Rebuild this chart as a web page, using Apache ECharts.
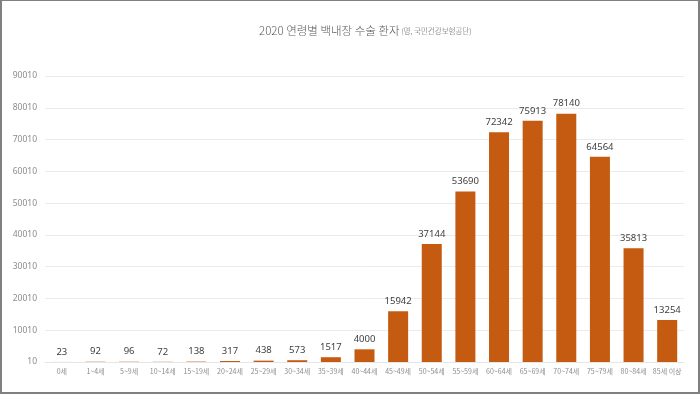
<!DOCTYPE html>
<html>
<head>
<meta charset="utf-8">
<script src="https://cdn.jsdelivr.net/npm/echarts@6/dist/echarts.min.js"></script>
<style>
html,body{margin:0;padding:0;background:#fff;}
#frame{width:700px;height:394px;box-sizing:border-box;border:2px solid #808080;border-top-width:1px;position:relative;overflow:hidden;}
#chart{position:absolute;left:-2px;top:-1px;width:700px;height:394px;}
</style>
</head>
<body>
<div id="frame"><div id="chart"></div></div>
<script>
const categories = ['0세','1~4세','5~9세','10~14세','15~19세','20~24세','25~29세','30~34세','35~39세','40~44세','45~49세','50~54세','55~59세','60~64세','65~69세','70~74세','75~79세','80~84세','85세 이상'];
const values = [23,92,96,72,138,317,438,573,1517,4000,15942,37144,53690,72342,75913,78140,64564,35813,13254];
const yMin = 10, yMax = 90010, yInterval = 10000;

const chart = echarts.init(document.getElementById('chart'), null, {renderer:'canvas'});
chart.setOption({
  animation:false,
  backgroundColor:'transparent',
  title:{
    text:'{a|2020 연령별 백내장 수술 환자}{b| (명, 국민건강보험공단)}',
    left:254, top:20,
    textStyle:{
      rich:{
        a:{fontSize:11.5,color:'#595959',fontFamily:'Noto Sans CJK KR',fontWeight:300},
        b:{fontSize:7.5,color:'#595959',fontFamily:'Noto Sans CJK KR',fontWeight:300}
      }
    }
  },
  grid:{left:45,right:16,top:76,bottom:32,containLabel:false},
  xAxis:{
    type:'category',
    data:categories,
    axisLine:{show:true,lineStyle:{color:'#e6e6e6',width:1}},
    axisTick:{show:false},
    axisLabel:{color:'#8c8c8c',fontSize:7,interval:0,margin:6,fontFamily:'Noto Sans CJK KR'}
  },
  yAxis:{
    type:'value',
    min:yMin,max:yMax,interval:yInterval,
    axisLine:{show:false},
    axisTick:{show:false},
    splitLine:{lineStyle:{color:'#ebebeb',width:1}},
    axisLabel:{color:'#8c8c8c',fontSize:8.5,margin:8,fontFamily:'Noto Sans',formatter:function(v){return String(v);}}
  },
  series:[{
    type:'bar',
    data:values,
    barWidth:20,
    itemStyle:{color:'#c55a11'},
    label:{show:true,position:'top',distance:5,color:'#404040',fontSize:9.5,fontFamily:'Noto Sans'}
  }]
});
</script>
</body>
</html>
